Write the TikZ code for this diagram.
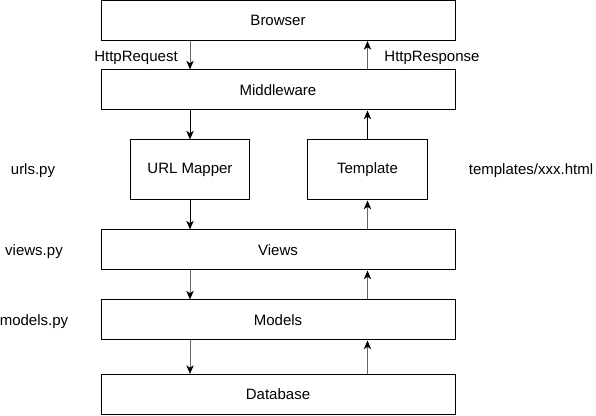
\documentclass[tikz,border=0pt]{standalone}
\usepackage{fontspec}
\setmainfont{Liberation Sans}
\usepackage{tikz}
\usetikzlibrary{arrows.meta}
\usetikzlibrary{positioning}

\tikzset{
  layer/.style={draw=black,line width=0.75pt,minimum width=265.5pt,minimum height=30pt,inner sep=0pt,font=\fontsize{11.25}{13}\selectfont},
  unit/.style={draw=black,line width=0.75pt,minimum width=89.5pt,minimum height=45pt,inner sep=0pt,font=\fontsize{11.25}{13}\selectfont},
  note/.style={inner sep=0pt,font=\fontsize{11.25}{13}\selectfont},
  flow/.style={line width=0.75pt,-{Stealth[length=6.5pt,width=5.5pt,inset=1.8pt]}},
  soft/.style={line width=0.75pt,draw=black!60,-{Stealth[length=6.5pt,width=5.5pt,inset=1.8pt,color=black]}}
}

\begin{document}
\begin{tikzpicture}[x=0.75pt,y=-0.75pt]

\useasboundingbox (0,0) rectangle (596,416);

\node[layer] (browser) at (278,20.5) {Browser};
\node[layer] (middleware) at (278,90) {Middleware};
\node[unit] (mapper) at (190,170) {URL Mapper};
\node[unit] (template) at (367.5,170) {Template};
\node[layer] (views) at (278,250) {Views};
\node[layer] (models) at (278,320) {Models};
\node[layer] (database) at (278,394.5) {Database};

\node[note] (req) at (136,58) {HttpRequest};
\node[note] (resp) at (432,58) {HttpResponse};
\node[note] (urls) at (33,171) {urls.py};
\node[note] (viewsfile) at (34,252) {views.py};
\node[note] (modelsfile) at (34,322) {models.py};
\node[note] (tplfile) at (531,171) {templates/xxx.html};

% request going down
\draw[soft] (browser.south -| mapper) -- (middleware.north -| mapper);
\draw[flow] (middleware.south -| mapper) -- (mapper.north);
\draw[flow] (mapper.south) -- (views.north -| mapper);
\draw[soft] (views.south -| mapper) -- (models.north -| mapper);
\draw[soft] (models.south -| mapper) -- (database.north -| mapper);

% response going up
\draw[soft] (database.north -| template) -- (models.south -| template);
\draw[soft] (models.north -| template) -- (views.south -| template);
\draw[soft] (views.north -| template) -- (template.south);
\draw[flow] (template.north) -- (middleware.south -| template);
\draw[soft] (middleware.north -| template) -- (browser.south -| template);

\end{tikzpicture}
\end{document}
